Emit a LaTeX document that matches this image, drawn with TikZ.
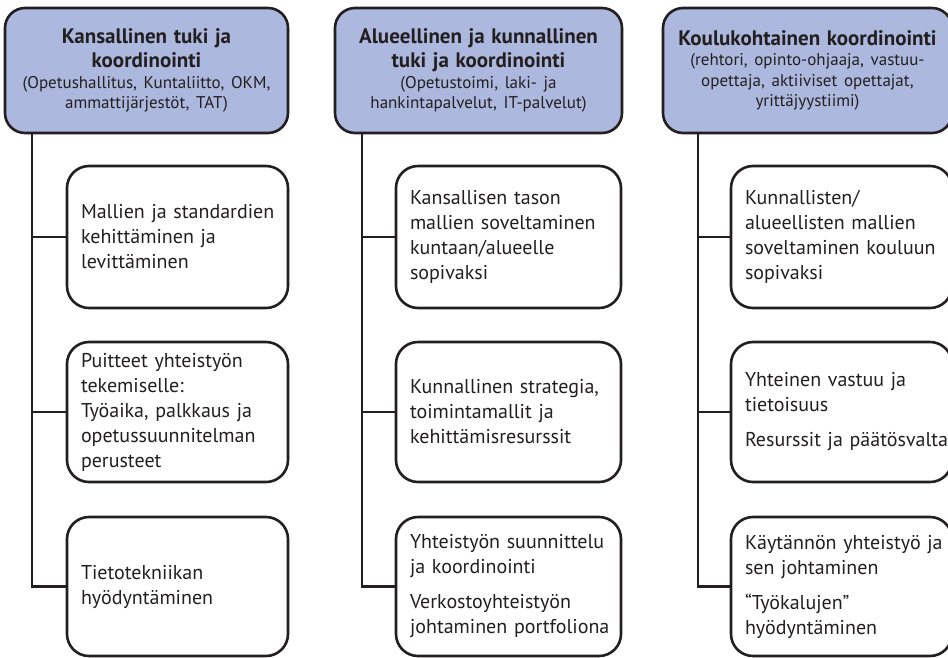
\documentclass[tikz,border=0pt]{standalone}
\usepackage{fontspec}
\setmainfont{PT Sans}
\hyphenpenalty=10000
\exhyphenpenalty=10000
\definecolor{headfill}{HTML}{ADB8DE}
\definecolor{ink}{HTML}{231F20}
\newcommand{\headtitle}{\bfseries\fontsize{21}{24}\selectfont}
\newcommand{\headsub}{\fontsize{17}{20.5}\selectfont}
\begin{document}
\begin{tikzpicture}[x=1pt,y=-1pt,
  every node/.style={font=\fontsize{20}{25}\selectfont, text=ink},
  headbox/.style={draw=ink, line width=2.6pt, fill=headfill, rounded corners=20pt,
    minimum height=125pt, inner xsep=4pt, inner ysep=0pt, align=center},
  itembox/.style={draw=ink, line width=2.6pt, fill=white, rounded corners=22pt,
    inner xsep=14pt, inner ysep=0pt, align=left},
  link/.style={draw=ink, line width=2.6pt}]
\useasboundingbox (0,0) rectangle (948,657);
\clip (0,0) rectangle (948,657);

% column headers
\node[headbox, minimum width=283pt, text width=275pt] (h1) at (146.5,70.5)
  {{\headtitle Kansallinen tuki ja\\ koordinointi\par}%
   {\headsub (Opetushallitus, Kuntaliitto, OKM,\\ ammattijärjestöt, TAT)\par}};
\node[headbox, minimum width=287pt, text width=279pt] (h2) at (478.5,70.5)
  {{\headtitle Alueellinen ja kunnallinen\\ tuki ja koordinointi\par}%
   {\headsub (Opetustoimi, laki- ja\\ hankintapalvelut, IT-palvelut)\par}};
\node[headbox, minimum width=289pt, text width=281pt] (h3) at (807.5,70.5)
  {{\headtitle Koulukohtainen koordinointi\par}%
   {\headsub (rehtori, opinto-ohjaaja, vastuu-\\ opettaja, aktiiviset opettajat,\\ yrittäjyystiimi)\par}};

% first column
\node[itembox, text width=193pt, minimum height=142pt] (a1) at (177.5,237)
  {\mbox{Mallien ja standardien}\\ kehittäminen ja\\ levittäminen};
\node[itembox, text width=193pt, minimum height=140pt] (a2) at (177.5,412)
  {Puitteet yhteistyön\\ tekemiselle:\\ \mbox{Työaika, palkkaus ja}\\ opetussuunnitelman\\ perusteet};
\node[itembox, text width=193pt, minimum height=139pt] (a3) at (177.5,586.5)
  {Tietotekniikan\\ hyödyntäminen};

% second column
\node[itembox, text width=197pt, minimum height=142pt] (b1) at (508.5,237)
  {Kansallisen tason\\ \mbox{mallien soveltaminen}\\ kuntaan/alueelle\\ sopivaksi};
\node[itembox, text width=197pt, minimum height=140pt] (b2) at (508.5,412)
  {\mbox{Kunnallinen strategia,}\\ toimintamallit ja\\ kehittämisresurssit};
\node[itembox, text width=197pt, minimum height=139pt] (b3) at (508.5,586.5)
  {\mbox{Yhteistyön suunnittelu}\\ ja koordinointi\\[10pt] Verkostoyhteistyön\\ \mbox{johtaminen portfoliona}};

% third column
\node[itembox, text width=193pt, minimum height=142pt] (c1) at (841.5,237)
  {Kunnallisten/\\ \mbox{alueellisten mallien}\\ \mbox{soveltaminen kouluun}\\ sopivaksi};
\node[itembox, text width=193pt, minimum height=140pt] (c2) at (841.5,412)
  {Yhteinen vastuu ja\\ tietoisuus\\[10pt] \mbox{Resurssit ja päätösvalta}};
\node[itembox, text width=193pt, minimum height=139pt] (c3) at (841.5,586.5)
  {\mbox{Käytännön yhteistyö ja}\\ sen johtaminen\\[10pt] “Työkalujen”\\ hyödyntäminen};

% trunk lines from each header
\coordinate (ta) at (32,133);
\coordinate (tb) at (362,133);
\coordinate (tc) at (698,133);
\draw[link] (ta) |- (a3.west);
\draw[link] (ta |- a1.west) -- (a1.west);
\draw[link] (ta |- a2.west) -- (a2.west);
\draw[link] (tb) |- (b3.west);
\draw[link] (tb |- b1.west) -- (b1.west);
\draw[link] (tb |- b2.west) -- (b2.west);
\draw[link] (tc) |- (c3.west);
\draw[link] (tc |- c1.west) -- (c1.west);
\draw[link] (tc |- c2.west) -- (c2.west);
\end{tikzpicture}
\end{document}
